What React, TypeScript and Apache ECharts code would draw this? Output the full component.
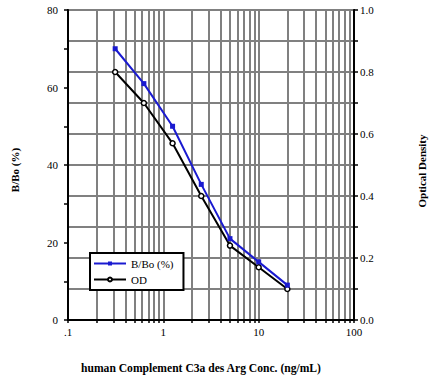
import React, { useEffect, useRef } from "react";
import * as echarts from "echarts";

const concentrations = [0.3125, 0.625, 1.25, 2.5, 5, 10, 20];
const bBoPercent = [70, 61, 50, 35, 21, 15, 9];
const opticalDensity = [0.8, 0.7, 0.57, 0.4, 0.24, 0.17, 0.1];
const xTickValues = [
  0.1, 0.2, 0.3, 0.4, 0.5, 0.6, 0.7, 0.8, 0.9,
  1, 2, 3, 4, 5, 6, 7, 8, 9,
  10, 20, 30, 40, 50, 60, 70, 80, 90, 100,
];
const xLabelValues = [0.1, 1, 10, 100];

const FONT = "'Liberation Serif', 'Times New Roman', serif";

export default function App() {
  const ref = useRef<HTMLDivElement>(null);
  useEffect(() => {
    if (!ref.current) return;
    const chart = echarts.init(ref.current, undefined, { renderer: "svg" });
    chart.setOption({
      animation: false,
      backgroundColor: "#fff",
      textStyle: { fontFamily: FONT, color: "#000" },
      grid: {
        left: 68,
        right: 80,
        top: 10,
        bottom: 60,
        show: true,
        borderColor: "#000",
        borderWidth: 2,
        backgroundColor: "transparent",
      },
      legend: {
        orient: "vertical",
        left: 90,
        top: 253,
        backgroundColor: "#fff",
        borderColor: "#000",
        borderWidth: 2,
        borderRadius: 0,
        padding: [5, 10, 5, 3],
        itemWidth: 32,
        itemHeight: 5,
        itemGap: 5,
        textStyle: { fontFamily: FONT, fontSize: 11, color: "#000" },
        data: ["B/Bo (%)", "OD"],
      },
      xAxis: {
        type: "log",
        logBase: 10,
        min: 0.1,
        max: 100,
        axisLine: { show: true, onZero: false, lineStyle: { color: "#000", width: 2 } },
        axisTick: {
          show: true,
          length: 3,
          customValues: xTickValues,
          lineStyle: { color: "#000", width: 1.5 },
        },
        axisLabel: {
          customValues: xLabelValues,
          fontFamily: FONT,
          fontSize: 11,
          color: "#000",
          margin: 6,
          formatter: (v: number) => (v === 0.1 ? ".1" : String(Math.round(v))),
        },
        splitLine: { show: true, lineStyle: { color: "#808080", width: 2 } },
        minorTick: { show: false },
      },
      yAxis: [
        {
          type: "value",
          min: 0,
          max: 80,
          interval: 10,
          position: "left",
          axisLine: { show: true, lineStyle: { color: "#000", width: 2 } },
          axisTick: { show: true, length: 4, lineStyle: { color: "#000", width: 1.5 } },
          axisLabel: {
            fontFamily: FONT,
            fontSize: 11,
            color: "#000",
            margin: 10,
            formatter: (v: number) => (v % 20 === 0 ? String(v) : ""),
          },
          splitLine: { show: false },
        },
        {
          type: "value",
          min: 0,
          max: 1,
          interval: 0.1,
          position: "right",
          axisLine: { show: true, lineStyle: { color: "#000", width: 2 } },
          axisTick: { show: true, length: 4, lineStyle: { color: "#000", width: 1.5 } },
          axisLabel: {
            fontFamily: FONT,
            fontSize: 11,
            color: "#000",
            margin: 6,
            formatter: (v: number) =>
              Math.round(v * 10) % 2 === 0 ? v.toFixed(1) : "",
          },
          splitLine: { show: true, lineStyle: { color: "#808080", width: 2 } },
        },
      ],
      series: [
        {
          name: "B/Bo (%)",
          type: "line",
          yAxisIndex: 0,
          data: concentrations.map((c, i) => [c, bBoPercent[i]]),
          symbol: "rect",
          symbolSize: 5,
          lineStyle: { color: "#1a1ad0", width: 2 },
          itemStyle: { color: "#1a1ad0", borderWidth: 0 },
          z: 3,
        },
        {
          name: "OD",
          type: "line",
          yAxisIndex: 1,
          data: concentrations.map((c, i) => [c, opticalDensity[i]]),
          symbol: "circle",
          symbolSize: 5,
          lineStyle: { color: "#000", width: 2 },
          itemStyle: { color: "#fff", borderColor: "#000", borderWidth: 1.5 },
          z: 2,
        },
      ],
      graphic: [
        {
          type: "text",
          x: 15,
          y: 170,
          rotation: Math.PI / 2,
          style: {
            text: "B/Bo (%)",
            font: `bold 11px ${FONT}`,
            fill: "#000",
            align: "center",
            verticalAlign: "middle",
          },
        },
        {
          type: "text",
          x: 422,
          y: 171,
          rotation: Math.PI / 2,
          style: {
            text: "Optical Density",
            font: `bold 11px ${FONT}`,
            fill: "#000",
            align: "center",
            verticalAlign: "middle",
          },
        },
        {
          type: "text",
          x: 201,
          y: 368,
          style: {
            text: "human Complement C3a des Arg Conc. (ng/mL)",
            font: `bold 11.6px ${FONT}`,
            fill: "#000",
            align: "center",
            verticalAlign: "middle",
          },
        },
      ],
    });
    return () => chart.dispose();
  }, []);
  return (
    <div
      ref={ref}
      style={{ position: "fixed", left: 0, top: 0, width: 434, height: 380 }}
    />
  );
}
